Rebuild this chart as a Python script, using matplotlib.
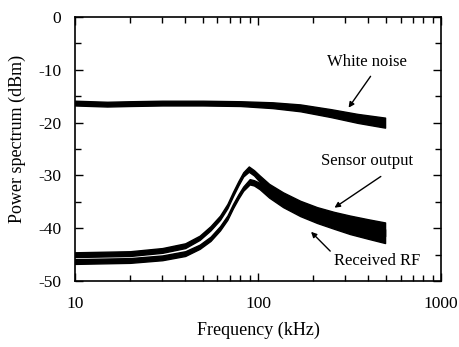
import numpy as np
import matplotlib.pyplot as plt

plt.rcParams['font.family'] = ['Liberation Serif', 'DejaVu Serif']
plt.rcParams['axes.unicode_minus'] = False

# white noise trace (center and half spread of the noisy band, dBm)
wn_freq = [10, 15, 20, 30, 50, 80, 120, 170, 250, 350, 494]
wn_level = [-16.3, -16.5, -16.4, -16.3, -16.3, -16.4, -16.7, -17.2, -18.2, -19.2, -20.0]
wn_spread = [0.45, 0.45, 0.45, 0.45, 0.45, 0.45, 0.55, 0.65, 0.75, 0.85, 0.95]

# sensor output trace
so_freq = [10, 20, 30, 40, 48, 55, 62, 68, 73, 78, 83, 89, 95, 102, 115, 137, 170, 210, 260, 318, 400, 494]
so_level = [-45.0, -44.8, -44.2, -43.3, -41.8, -40.0, -38.0, -35.8, -33.5, -31.5, -29.8, -28.8, -29.5,
            -30.6, -32.3, -34.0, -35.7, -37.0, -38.0, -38.8, -39.5, -40.2]
so_spread = [0.45, 0.45, 0.45, 0.45, 0.4, 0.4, 0.4, 0.4, 0.4, 0.4, 0.4, 0.5, 0.5,
             0.6, 0.7, 0.8, 0.9, 1.0, 1.1, 1.2, 1.2, 1.3]

# received RF trace
rf_freq = [10, 20, 30, 40, 48, 55, 62, 68, 73, 78, 83, 90, 95, 102, 115, 137, 170, 210, 260, 318, 400, 494]
rf_level = [-46.3, -46.1, -45.6, -44.8, -43.5, -42.0, -40.0, -38.0, -35.8, -34.0, -32.5, -31.2, -31.4,
            -32.0, -33.5, -35.2, -36.8, -38.0, -39.0, -39.9, -40.8, -41.5]
rf_spread = [0.45, 0.45, 0.45, 0.45, 0.4, 0.4, 0.4, 0.4, 0.4, 0.4, 0.4, 0.5, 0.5,
             0.6, 0.7, 0.8, 0.9, 1.0, 1.1, 1.2, 1.2, 1.3]

fig = plt.figure(figsize=(4.6, 3.47), dpi=100)
ax = fig.add_axes([0.163, 0.190, 0.796, 0.761])

for f, c, w in [(wn_freq, wn_level, wn_spread), (so_freq, so_level, so_spread), (rf_freq, rf_level, rf_spread)]:
    c = np.array(c)
    w = np.array(w)
    ax.fill_between(f, c - w, c + w, color='black', lw=1.0)

ax.set_xscale('log')
ax.set_xlim(10, 1000)
ax.set_ylim(-50, 0)
ax.set_yticks([-50, -40, -30, -20, -10, 0])
ax.set_yticks(np.arange(-45, 0, 10), minor=True)
ax.set_xticks([10, 100, 1000])
ax.set_xticklabels(['10', '100', '1000'])
ax.tick_params(which='both', direction='in', top=True, right=True, labelsize=12.5, width=1.0)
ax.tick_params(which='major', length=6)
ax.tick_params(which='minor', length=4)
ax.tick_params(axis='x', which='major', pad=11)
ax.tick_params(axis='y', which='major', pad=10)
for sp in ax.spines.values():
    sp.set_linewidth(1.2)

ax.set_xlabel('Frequency (kHz)', fontsize=13, labelpad=7)
ax.set_ylabel('Power spectrum (dBm)', fontsize=13)
ax.yaxis.set_label_coords(-0.135, 0.54)

# annotations
arrow = dict(arrowstyle='-|>', color='black', lw=1.0, mutation_scale=8)
ax.text(394, -8.5, 'White noise', ha='center', va='center', fontsize=12)
ax.annotate('', xy=(306, -17.6), xytext=(420, -10.8), arrowprops=arrow)
ax.text(394, -27.3, 'Sensor output', ha='center', va='center', fontsize=12)
ax.annotate('', xy=(254, -36.4), xytext=(482, -29.9), arrowprops=arrow)
ax.text(447, -46.2, 'Received RF', ha='center', va='center', fontsize=12)
ax.annotate('', xy=(190, -40.3), xytext=(254, -44.7), arrowprops=arrow)

fig.savefig('out.png', dpi=100)
